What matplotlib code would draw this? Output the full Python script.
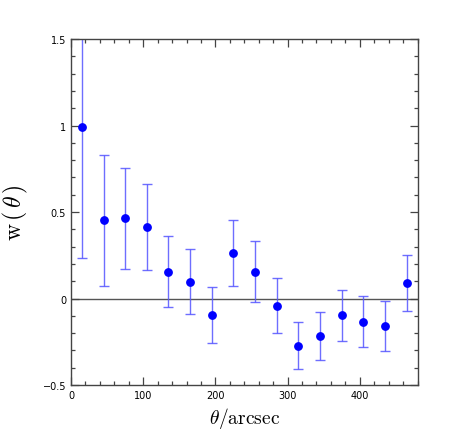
import matplotlib
matplotlib.use('Agg')
import matplotlib.pyplot as plt
from matplotlib.ticker import MultipleLocator, FuncFormatter

# angular bins (arcsec) and correlation values
theta = [15, 45, 75, 105, 135, 165, 195, 225, 255, 285, 315, 345, 375, 405, 435, 465]
w = [0.99, 0.453, 0.464, 0.412, 0.156, 0.098, -0.097, 0.265, 0.155, -0.043,
     -0.272, -0.215, -0.097, -0.136, -0.159, 0.089]
w_hi = [1.74, 0.828, 0.757, 0.662, 0.362, 0.285, 0.064, 0.451, 0.331, 0.116,
        -0.136, -0.076, 0.052, 0.012, -0.017, 0.25]
w_lo = [0.237, 0.075, 0.17, 0.162, -0.048, -0.087, -0.26, 0.075, -0.02, -0.202,
        -0.407, -0.355, -0.248, -0.279, -0.302, -0.074]

plt.rcParams['mathtext.fontset'] = 'cm'
plt.rcParams['font.family'] = 'DejaVu Sans'

fig = plt.figure(figsize=(4.57, 4.35), dpi=100)
ax = fig.add_axes([0.1554, 0.1126, 0.7582, 0.7954])

err_lo = [v - l for v, l in zip(w, w_lo)]
err_hi = [h - v for v, h in zip(w, w_hi)]

ax.axhline(0, color='#555555', lw=1.0, zorder=1)
ax.errorbar(theta, w, yerr=[err_lo, err_hi], fmt='none', ecolor='#5555ff',
            elinewidth=1.0, capsize=3.5, capthick=1.0, alpha=0.85, zorder=2)
ax.plot(theta, w, 'o', color='#0000ff', markersize=5.3, zorder=3)

ax.set_xlim(0, 480)
ax.set_ylim(-0.5, 1.5)

ax.xaxis.set_major_locator(MultipleLocator(100))
ax.xaxis.set_minor_locator(MultipleLocator(20))
ax.yaxis.set_major_locator(MultipleLocator(0.5))
ax.yaxis.set_minor_locator(MultipleLocator(0.1))

def yfmt(v, pos):
    s = ('%g' % v)
    return s.replace('-', '\u2212')

ax.yaxis.set_major_formatter(FuncFormatter(yfmt))

ax.tick_params(which='both', direction='in', top=True, right=True,
               labelsize=7, color='#444444', width=0.9)
ax.tick_params(which='major', length=6)
ax.tick_params(which='minor', length=3)
for sp in ax.spines.values():
    sp.set_color('#444444')
    sp.set_linewidth(1.0)

ax.set_xlabel(r'$\theta/\mathrm{arcsec}$', fontsize=14, labelpad=4)
ax.set_ylabel(r'$\mathrm{w}\,(\,\theta\,)$', fontsize=17)
ax.yaxis.set_label_coords(-0.118, 0.5)

fig.savefig('out.png', dpi=100)
